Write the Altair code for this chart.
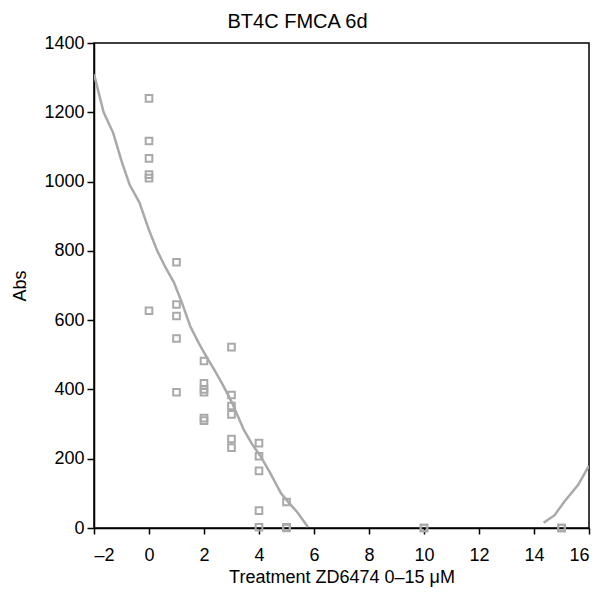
import altair as alt
import pandas as pd

# Scatter observations (treatment dose, absorbance)
dose = [0, 0, 0, 0, 0, 0,
        1, 1, 1, 1, 1,
        2, 2, 2, 2, 2, 2,
        3, 3, 3, 3, 3, 3,
        4, 4, 4, 4, 4,
        5, 5, 5,
        10, 10,
        15, 15]
absv = [1240, 1117, 1067, 1020, 1010, 627,
        767, 645, 612, 547, 392,
        482, 418, 400, 392, 317, 310,
        522, 384, 352, 328, 257, 232,
        245, 207, 165, 50, 2,
        75, 2, 0,
        0, 0,
        0, 0]

# Fitted curve (drawn where positive)
fit_x = [-2, -1.65, -1.3, -1.0, -0.7, -0.35, 0.0, 0.3, 0.6, 0.9, 1.2, 1.5, 1.8,
         2.05, 2.35, 2.65, 3.0, 3.45, 3.75, 4.05, 4.4, 4.8, 5.05, 5.4, 5.78,
         14.35, 14.75, 15.1, 15.6, 16.0]
fit_y = [1310, 1200, 1140, 1060, 990, 940, 860, 800, 752, 710, 650, 582, 535,
         500, 460, 418, 365, 283, 242, 208, 160, 100, 76, 45, 3,
         15, 37, 76, 124, 180]
fit_seg = [1] * 25 + [2] * 5

pts = pd.DataFrame({"dose": dose, "abs": absv})
fit = pd.DataFrame({"x": fit_x, "y": fit_y, "seg": fit_seg})

FONT = "Liberation Sans"
GRAY = "#a9a9a9"

xscale = alt.Scale(domain=[-2, 16], nice=False, zero=False)
yscale = alt.Scale(domain=[0, 1400], nice=False)

xaxis = alt.Axis(values=list(range(-2, 17, 2)), title="Treatment ZD6474 0–15 μM",
                 labelExpr="datum.value < 0 ? '–' + abs(datum.value) : datum.label",
                 tickSize=6, labelPadding=12, titlePadding=4)
yaxis = alt.Axis(values=list(range(0, 1401, 200)), title="Abs", format="d",
                 tickSize=7, labelPadding=3, titlePadding=14)

line = alt.Chart(fit).mark_line(color=GRAY, strokeWidth=2.5, clip=True).encode(
    x=alt.X("x:Q", scale=xscale, axis=xaxis),
    y=alt.Y("y:Q", scale=yscale, axis=yaxis),
    detail="seg:N",
)

points = alt.Chart(pts).mark_point(shape="square", filled=False, color=GRAY,
                                   strokeWidth=2, size=44, opacity=1).encode(
    x=alt.X("dose:Q", scale=xscale),
    y=alt.Y("abs:Q", scale=yscale),
)

chart = (line + points).properties(
    width=495, height=485,
    background="white",
    padding={"left": 3, "top": 4, "right": 5, "bottom": 3},
    title=alt.TitleParams("BT4C FMCA 6d", font=FONT, fontSize=20, fontWeight="normal",
                          color="black", offset=2, dx=-44),
).configure_view(stroke="black", strokeWidth=1.5).configure_axis(
    grid=False, domainColor="black", domainWidth=1.5, tickColor="black", tickWidth=1.5,
    labelFont=FONT, labelFontSize=18, labelColor="black",
    titleFont=FONT, titleFontSize=18, titleFontWeight="normal", titleColor="black",
)

chart.save("out.html", embed_options={"renderer": "svg", "actions": False})
